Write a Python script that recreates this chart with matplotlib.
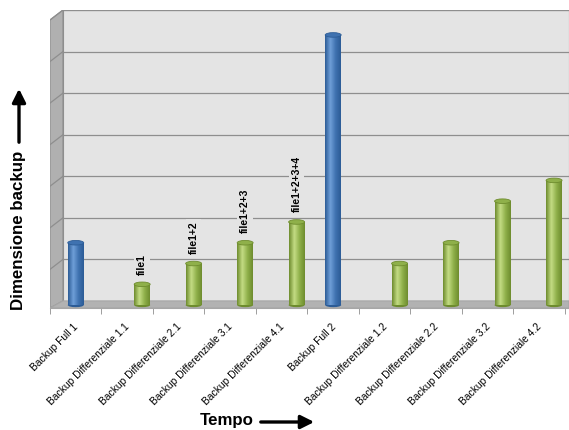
import matplotlib
matplotlib.use("Agg")
import matplotlib.pyplot as plt
import numpy as np
from matplotlib.patches import Polygon, Rectangle, Ellipse, FancyArrowPatch
from matplotlib.colors import LinearSegmentedColormap

# dati
categorie = ["Backup Full 1", "Backup Differenziale 1.1", "Backup Differenziale 2.1",
             "Backup Differenziale 3.1", "Backup Differenziale 4.1", "Backup Full 2",
             "Backup Differenziale 1.2", "Backup Differenziale 2.2",
             "Backup Differenziale 3.2", "Backup Differenziale 4.2"]
full = [1.5, 0, 0, 0, 0, 6.5, 0, 0, 0, 0]
differenziale = [0, 0.5, 1, 1.5, 2, 0, 1, 1.5, 2.5, 3]
etichette = ["", "file1", "file1+2", "file1+2+3", "file1+2+3+4", "", "", "", "", ""]
griglia = [1, 2, 3, 4, 5, 6, 7]

blu = ["#2c5c96", "#6f9fd8", "#3f72b0"]
verde = ["#6e8c2e", "#c4dc84", "#8fb04a"]
muro = "#e4e4e4"
linea = "#8e8e8e"

fig = plt.figure(figsize=(5.69, 4.3), dpi=100)
ax = fig.add_axes([50/569, 122/430, 519/569, 298/430])
x0, x1 = -0.5, 9.58
y0, y1 = -0.17, 7.0
xw = -0.5 + 13/51.5   # bordo del muro di fondo

# muro di fondo, lato sinistro, pavimento
ax.add_patch(Rectangle((xw, 0), x1 - xw, y1, facecolor=muro, edgecolor=linea, lw=0.8, zorder=0))
ax.add_patch(Polygon([[x0, y0], [xw, 0], [xw, y1], [x0, y1 - 0.24]], closed=True,
                     facecolor="#b0b0b0", edgecolor=linea, lw=0.8, zorder=0))
ax.add_patch(Polygon([[x0, y0], [xw, 0], [x1, 0], [x1, y0]], closed=True,
                     facecolor="#b2b2b2", edgecolor="#a6a6a6", lw=0.8, zorder=0))
for g in griglia:
    ax.plot([xw, x1], [g, g], color=linea, lw=0.9, zorder=0.5)
    ax.plot([x0, xw], [g - 0.24, g], color=linea, lw=0.9, zorder=0.5)


def cilindro(xc, h, col):
    w = 0.31
    base = -0.1
    r = Rectangle((xc - w/2, base), w, h, facecolor=col[2], edgecolor="none", zorder=2)
    ax.add_patch(r)
    cm = LinearSegmentedColormap.from_list("c", [col[0], col[1], col[2], col[0]])
    im = ax.imshow(np.linspace(0, 1, 64).reshape(1, -1), extent=[xc - w/2, xc + w/2, base, base + h],
                   cmap=cm, aspect="auto", zorder=2, interpolation="bilinear")
    im.set_clip_path(r)
    ax.add_patch(Ellipse((xc, base), w, 0.1, facecolor=col[0], edgecolor="none", zorder=1.9))
    ax.add_patch(Ellipse((xc, base + h), w, 0.11, facecolor=col[2], edgecolor=col[0], lw=0.6, zorder=3))


xs = np.arange(len(categorie))
for i in xs:
    if full[i] > 0:
        cilindro(i, full[i], blu)
    if differenziale[i] > 0:
        cilindro(i + 0.29, differenziale[i], verde)
    if etichette[i]:
        ax.text(i + 0.29, differenziale[i] + 0.13, etichette[i], rotation=90, ha="center", va="bottom",
                fontsize=7.5, fontweight="bold", family="Liberation Sans", zorder=4,
                bbox=dict(facecolor=muro, edgecolor="none", pad=2))

ax.set_xlim(x0, x1)
ax.set_ylim(y0, y1)
ax.set_xticks(xs - 0.05)
ax.set_xticklabels(categorie, rotation=45, ha="right", rotation_mode="anchor",
                   fontsize=7.4, family="Liberation Sans")
ax.set_xticks(np.arange(len(categorie) + 1) - 0.5, minor=True)
ax.tick_params(axis="x", which="major", length=0, pad=10)
ax.tick_params(axis="x", which="minor", length=4, color=linea, direction="out")
ax.set_yticks([])
for s in ["top", "right", "left"]:
    ax.spines[s].set_visible(False)
ax.spines["bottom"].set_color("#a6a6a6")
ax.set_facecolor("white")

# titoli degli assi con frecce
freccia = "-|>,head_length=8,head_width=4"
fig.text(19/569, 1 - 230/430, "Dimensione backup", rotation=90, ha="center", va="center",
         fontsize=12.2, fontweight="bold", family="Liberation Sans")
fig.add_artist(FancyArrowPatch((19/569, 1 - 145/430), (19/569, 1 - 86/430),
               transform=fig.transFigure, arrowstyle=freccia,
               mutation_scale=1, lw=2.4, color="black"))
fig.text(227/569, 1 - 421/430, "Tempo", ha="center", va="center",
         fontsize=12.2, fontweight="bold", family="Liberation Sans")
fig.add_artist(FancyArrowPatch((258/569, 1 - 422/430), (317/569, 1 - 422/430),
               transform=fig.transFigure, arrowstyle=freccia,
               mutation_scale=1, lw=2.4, color="black"))

fig.savefig("out.png", dpi=100)
